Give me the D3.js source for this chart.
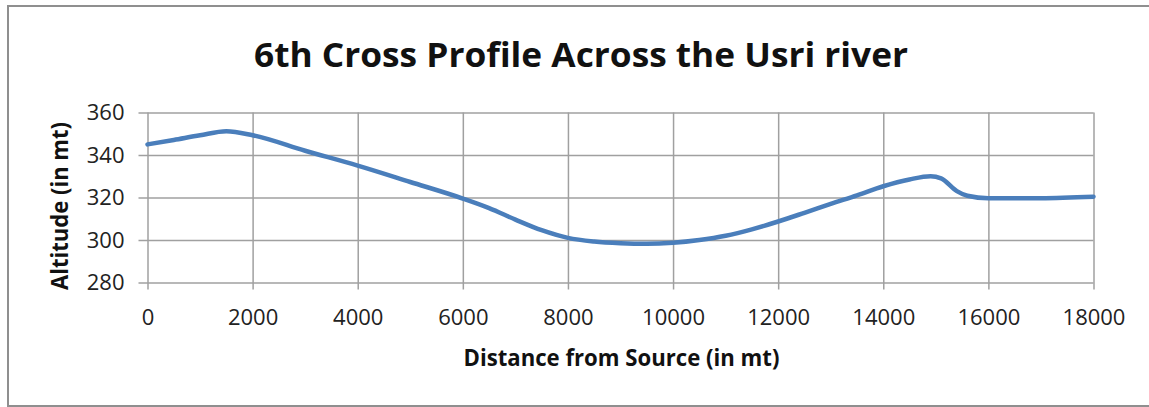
<!DOCTYPE html>
<html lang="en">
<head>
<meta charset="utf-8">
<title>6th Cross Profile Across the Usri river</title>
<script src="https://d3js.org/d3.v7.min.js"></script>
<style>
  body { margin: 0; background: #fff; }
  svg { display: block; font-family: "Open Sans", sans-serif; }
  .grid line { stroke: #a0a0a0; stroke-width: 1.5; }
  .tick text { fill: #222; }
</style>
</head>
<body>
<script>
// data
var distance = [0, 500, 1000, 1500, 2000, 3000, 4000, 5000, 6000, 6500, 7000, 7500, 8000, 8500,
                9000, 9500, 10000, 10500, 11000, 11500, 12000, 12500, 13000, 13500, 14000, 14500,
                14900, 15100, 15400, 15600, 16000, 17000, 18000];
var altitude = [345, 347.1, 349.3, 351.2, 349.3, 342, 335, 327.3, 319.5, 315, 309.6, 304.6, 301, 299.3,
                298.5, 298.2, 298.7, 300, 302, 305, 308.7, 312.8, 317, 321, 325.3, 328.5,
                330, 329, 323, 320.8, 319.6, 319.7, 320.4];
var xTicks = [0, 2000, 4000, 6000, 8000, 10000, 12000, 14000, 16000, 18000];
var yTicks = [280, 300, 320, 340, 360];

var width = 1149, height = 407;
var plotLeft = 147.5, plotRight = 1093.5, plotTop = 112.5, plotBottom = 282.5;

var svg = d3.select("body").append("svg")
    .attr("width", width)
    .attr("height", height);

// chart border (right side runs off the picture)
svg.append("rect")
    .attr("x", 8).attr("y", 6)
    .attr("width", 1160).attr("height", 400)
    .attr("fill", "#fff")
    .attr("stroke", "#8f8f8f")
    .attr("stroke-width", 2);

var x = d3.scaleLinear().domain([0, 18000]).range([plotLeft, plotRight]);
var y = d3.scaleLinear().domain([280, 360]).range([plotBottom, plotTop]);

// horizontal grid + y labels
var gy = svg.append("g")
    .attr("class", "grid")
    .attr("transform", "translate(" + plotRight + ",0)")
    .call(d3.axisLeft(y)
        .tickValues(yTicks)
        .tickSize(plotRight - plotLeft + 9)
        .tickPadding(14)
        .tickFormat(d3.format("d")));
gy.select(".domain").remove();
gy.selectAll("text").attr("font-size", 22).attr("font-family", "Open Sans");

// vertical grid + x labels
var gx = svg.append("g")
    .attr("class", "grid")
    .attr("transform", "translate(0," + (plotBottom + 7) + ")")
    .call(d3.axisTop(x)
        .tickValues(xTicks)
        .tickSize(plotBottom + 7 - plotTop)
        .tickFormat(d3.format("d")));
gx.select(".domain").remove();
gx.selectAll("text")
    .attr("font-size", 22)
    .attr("font-family", "Open Sans")
    .attr("y", 0)
    .attr("dy", 0)
    .attr("transform", "translate(0,35)");

// the profile line
var line = d3.line()
    .x(function(d, i) { return x(distance[i]); })
    .y(function(d) { return y(d); })
    .curve(d3.curveMonotoneX);

svg.append("path")
    .datum(altitude)
    .attr("fill", "none")
    .attr("stroke", "#4a7ebb")
    .attr("stroke-width", 4.5)
    .attr("stroke-linejoin", "round")
    .attr("stroke-linecap", "round")
    .attr("d", line);

// titles
svg.append("text")
    .attr("x", 581).attr("y", 67)
    .attr("text-anchor", "middle")
    .attr("font-size", 34)
    .attr("font-weight", "bold")
    .attr("fill", "#111")
    .attr("textLength", 654)
    .attr("lengthAdjust", "spacingAndGlyphs")
    .text("6th Cross Profile Across the Usri river");

svg.append("text")
    .attr("x", 621.5).attr("y", 366)
    .attr("text-anchor", "middle")
    .attr("font-size", 24)
    .attr("font-weight", "bold")
    .attr("fill", "#111")
    .attr("textLength", 316)
    .attr("lengthAdjust", "spacingAndGlyphs")
    .text("Distance from Source (in mt)");

svg.append("text")
    .attr("transform", "translate(68," + 206 + ") rotate(-90)")
    .attr("text-anchor", "middle")
    .attr("font-size", 23)
    .attr("font-weight", "bold")
    .attr("fill", "#111")
    .attr("textLength", 168)
    .attr("lengthAdjust", "spacingAndGlyphs")
    .text("Altitude (in mt)");
</script>
</body>
</html>
